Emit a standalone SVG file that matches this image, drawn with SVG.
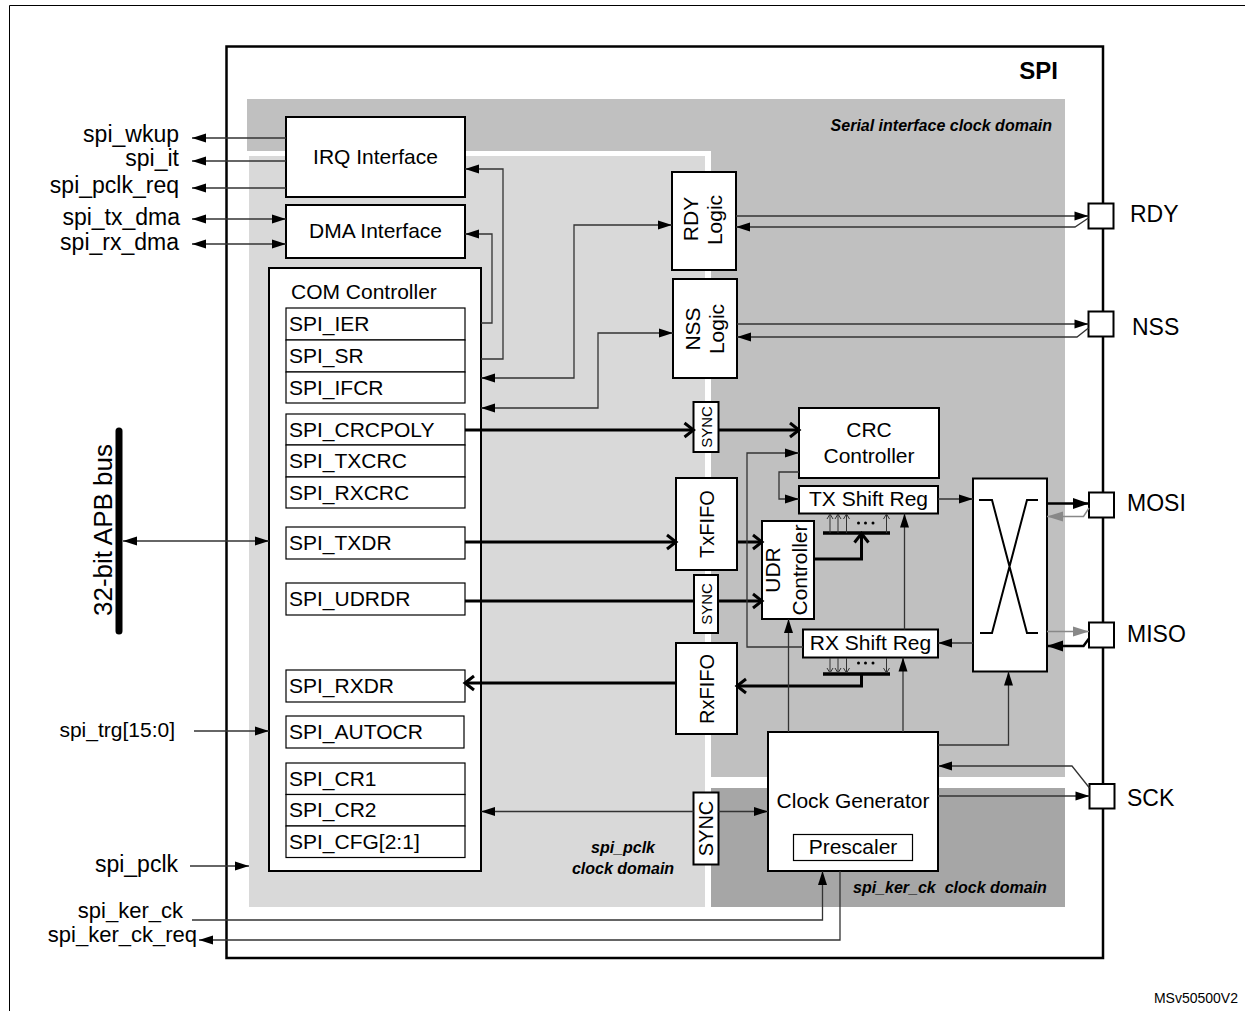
<svg xmlns="http://www.w3.org/2000/svg" width="1245" height="1011" viewBox="0 0 1245 1011">
<defs>
<style>
text{font-family:"Liberation Sans",Arial,Helvetica,sans-serif;fill:#000}
.f21{font-size:21px}
.lb{font-size:23px}
.pin{font-size:23px}
.dom{font-size:16px;font-weight:bold;font-style:italic}
.blk{fill:#fff;stroke:#000;stroke-width:2}
.reg{fill:#fff;stroke:#000;stroke-width:1.2}
.ln{fill:none;stroke:#333;stroke-width:1.3}
.th{fill:none;stroke:#000;stroke-width:3}
.tk{fill:none;stroke:#000;stroke-width:2.5}
.gr{fill:none;stroke:#888;stroke-width:1.5}
.sm{fill:none;stroke:#333;stroke-width:1}
</style>
<marker id="a" markerUnits="userSpaceOnUse" markerWidth="14" markerHeight="9" refX="14" refY="4.5" orient="auto-start-reverse" overflow="visible"><path d="M0,0 L14,4.5 L0,9 z" fill="#000"/></marker>
<marker id="ab" markerUnits="userSpaceOnUse" markerWidth="16" markerHeight="11" refX="16" refY="5.5" orient="auto-start-reverse" overflow="visible"><path d="M0,0 L16,5.5 L0,11 z" fill="#000"/></marker>
<marker id="ag" markerUnits="userSpaceOnUse" markerWidth="16" markerHeight="10" refX="16" refY="5" orient="auto-start-reverse" overflow="visible"><path d="M0,0 L16,5 L0,10 z" fill="#888"/></marker>
<marker id="c" markerUnits="userSpaceOnUse" markerWidth="10" markerHeight="14" refX="9" refY="7" orient="auto" overflow="visible"><path d="M0,0 L9,7 L0,14" fill="none" stroke="#000" stroke-width="3"/></marker>
<marker id="s" markerUnits="userSpaceOnUse" markerWidth="6" markerHeight="6" refX="5" refY="3" orient="auto" overflow="visible"><path d="M0,0 L5,3 L0,6" fill="none" stroke="#333" stroke-width="1"/></marker>
</defs>

<rect x="0" y="0" width="1245" height="1011" fill="#fff"/>
<path d="M9.5,1011 V5.5 H1245" fill="none" stroke="#000" stroke-width="1"/>

<g id="spi">
<rect x="226.5" y="46.5" width="876.5" height="911.5" fill="#fff" stroke="#000" stroke-width="2.5"/>
<text x="1058" y="79" text-anchor="end" font-size="24" font-weight="bold">SPI</text>
</g>

<g id="domains">
<rect x="247" y="99" width="818" height="678" fill="#c0c0c0"/>
<rect x="244" y="151" width="467" height="759" fill="#fff"/>
<rect x="249" y="156" width="456" height="751" fill="#d9d9d9"/>
<rect x="711" y="788" width="354" height="119" fill="#a6a6a6"/>
<text class="dom" x="1052" y="131" text-anchor="end">Serial interface clock domain</text>
<text class="dom" x="623" y="853" text-anchor="middle">spi_pclk</text>
<text class="dom" x="623" y="874" text-anchor="middle">clock domain</text>
<text class="dom" x="853" y="893" xml:space="preserve">spi_ker_ck  clock domain</text>
</g>

<g id="signals">
<text class="lb" x="179" y="142" text-anchor="end">spi_wkup</text>
<text class="lb" x="179" y="166" text-anchor="end">spi_it</text>
<text class="lb" x="179" y="193" text-anchor="end">spi_pclk_req</text>
<text class="lb" x="180" y="225" text-anchor="end">spi_tx_dma</text>
<text class="lb" x="179" y="250" text-anchor="end">spi_rx_dma</text>
<text x="175" y="737" text-anchor="end" font-size="21">spi_trg[15:0]</text>
<text class="lb" x="178" y="872" text-anchor="end">spi_pclk</text>
<text x="183" y="918" text-anchor="end" font-size="22">spi_ker_ck</text>
<text x="197" y="942" text-anchor="end" font-size="22">spi_ker_ck_req</text>
</g>

<g id="apb">
<line x1="119" y1="431" x2="119" y2="631" stroke="#000" stroke-width="7" stroke-linecap="round"/>
<text transform="translate(112,530) rotate(-90)" text-anchor="middle" font-size="26">32-bit APB bus</text>
</g>

<g id="irq"><rect class="blk" x="286" y="117" width="179" height="80"/><text class="f21" x="375.5" y="164" text-anchor="middle">IRQ Interface</text></g>
<g id="dma"><rect class="blk" x="286" y="205" width="179" height="53"/><text class="f21" x="375.5" y="238" text-anchor="middle">DMA Interface</text></g>

<g id="com">
<rect class="blk" x="269" y="268" width="212" height="603"/>
<text class="f21" x="291" y="299">COM Controller</text>
<rect class="reg" x="286" y="308" width="179" height="32"/><text class="f21" x="289" y="331">SPI_IER</text>
<rect class="reg" x="286" y="340" width="179" height="32"/><text class="f21" x="289" y="363">SPI_SR</text>
<rect class="reg" x="286" y="372" width="179" height="31"/><text class="f21" x="289" y="394.5">SPI_IFCR</text>
<rect class="reg" x="286" y="414" width="179" height="31"/><text class="f21" x="289" y="437">SPI_CRCPOLY</text>
<rect class="reg" x="286" y="445" width="179" height="32"/><text class="f21" x="289" y="468">SPI_TXCRC</text>
<rect class="reg" x="286" y="477" width="179" height="31"/><text class="f21" x="289" y="500">SPI_RXCRC</text>
<rect class="reg" x="286" y="527" width="179" height="32"/><text class="f21" x="289" y="550">SPI_TXDR</text>
<rect class="reg" x="286" y="583" width="179" height="32"/><text class="f21" x="289" y="606">SPI_UDRDR</text>
<rect class="reg" x="286" y="670" width="179" height="32"/><text class="f21" x="289" y="693">SPI_RXDR</text>
<rect class="reg" x="286" y="716" width="178" height="32"/><text class="f21" x="289" y="739">SPI_AUTOCR</text>
<rect class="reg" x="286" y="763" width="179" height="31.5"/><text class="f21" x="289" y="786">SPI_CR1</text>
<rect class="reg" x="286" y="794.5" width="179" height="31.5"/><text class="f21" x="289" y="817">SPI_CR2</text>
<rect class="reg" x="286" y="826" width="179" height="31.5"/><text class="f21" x="289" y="849">SPI_CFG[2:1]</text>
</g>

<g id="rdy-logic"><rect class="blk" x="672" y="172" width="64" height="98"/>
<text class="f21" transform="translate(698,219) rotate(-90)" text-anchor="middle">RDY</text>
<text class="f21" transform="translate(722,220) rotate(-90)" text-anchor="middle">Logic</text></g>
<g id="nss-logic"><rect class="blk" x="673" y="279" width="64" height="99"/>
<text class="f21" transform="translate(699.5,329) rotate(-90)" text-anchor="middle">NSS</text>
<text class="f21" transform="translate(724,329) rotate(-90)" text-anchor="middle">Logic</text></g>

<g id="sync1"><rect class="blk" x="693.5" y="402" width="25" height="50"/><text transform="translate(712,427) rotate(-90)" text-anchor="middle" font-size="15">SYNC</text></g>
<g id="sync2"><rect class="blk" x="694" y="575" width="24" height="58"/><text transform="translate(711.5,604) rotate(-90)" text-anchor="middle" font-size="15">SYNC</text></g>
<g id="sync3"><rect class="blk" x="693.5" y="792.5" width="25" height="72"/><text transform="translate(713,828.5) rotate(-90)" text-anchor="middle" font-size="20">SYNC</text></g>

<g id="crc"><rect class="blk" x="799" y="408" width="140" height="70"/>
<text class="f21" x="869" y="437" text-anchor="middle">CRC</text>
<text class="f21" x="869" y="462.5" text-anchor="middle">Controller</text></g>
<g id="tx-shift"><rect class="blk" x="799" y="486" width="139" height="27.5"/><text class="f21" x="868.5" y="506" text-anchor="middle">TX Shift Reg</text></g>
<g id="txfifo"><rect class="blk" x="676" y="478" width="61" height="92"/><text transform="translate(713.5,524) rotate(-90)" text-anchor="middle" font-size="20">TxFIFO</text></g>
<g id="udr"><rect class="blk" x="762" y="521" width="52" height="98"/>
<text class="f21" transform="translate(780,570) rotate(-90)" text-anchor="middle">UDR</text>
<text class="f21" transform="translate(807,570) rotate(-90)" text-anchor="middle">Controller</text></g>
<g id="rx-shift"><rect class="blk" x="803" y="629.5" width="135" height="28"/><text class="f21" x="870.5" y="650" text-anchor="middle">RX Shift Reg</text></g>
<g id="rxfifo"><rect class="blk" x="676" y="643" width="61" height="91"/><text transform="translate(713.5,689) rotate(-90)" text-anchor="middle" font-size="20">RxFIFO</text></g>
<g id="clockgen"><rect class="blk" x="768" y="732" width="170" height="139"/>
<text class="f21" x="853" y="808" text-anchor="middle">Clock Generator</text>
<rect class="reg" x="793.5" y="834.5" width="119" height="26"/>
<text class="f21" x="853" y="854" text-anchor="middle">Prescaler</text></g>
<g id="crossbar"><rect class="blk" x="973" y="478.5" width="74" height="193"/>
<path d="M979,500 H992 L1027,633 H1038 M1038,500 H1027 L992,633 H980" fill="none" stroke="#000" stroke-width="2"/></g>

<g id="pins">
<rect class="blk" x="1088.5" y="203.5" width="25" height="25"/><text class="pin" x="1130" y="222">RDY</text>
<rect class="blk" x="1088.5" y="311.5" width="25" height="25"/><text class="pin" x="1132" y="335">NSS</text>
<rect class="blk" x="1089" y="492.5" width="25" height="25"/><text class="pin" x="1127" y="511">MOSI</text>
<rect class="blk" x="1089" y="622.5" width="25" height="25"/><text class="pin" x="1127" y="642">MISO</text>
<rect class="blk" x="1089.5" y="784" width="25" height="24.5"/><text class="pin" x="1127" y="806">SCK</text>
</g>

<g id="connectors">
<path class="ln" d="M286,138 H192" marker-end="url(#a)"/>
<path class="ln" d="M286,161 H192" marker-end="url(#a)"/>
<path class="ln" d="M286,188 H192" marker-end="url(#a)"/>
<path class="ln" d="M192,219 H286" marker-start="url(#a)" marker-end="url(#a)"/>
<path class="ln" d="M192,244 H286" marker-start="url(#a)" marker-end="url(#a)"/>
<path class="ln" d="M481,323 H492 V234 H465" marker-end="url(#a)"/>
<path class="ln" d="M481,359 H503 V169 H465" marker-end="url(#a)"/>
<path class="ln" d="M481,378 H574 V225 H672" marker-start="url(#a)" marker-end="url(#a)"/>
<path class="ln" d="M481,408 H598 V333 H673" marker-start="url(#a)" marker-end="url(#a)"/>
<path class="ln" d="M736,216 H1088.5" marker-end="url(#a)"/>
<path class="ln" d="M1088.5,218 L1075,227 H736" marker-end="url(#a)"/>
<path class="ln" d="M737,324 H1088.5" marker-end="url(#a)"/>
<path class="ln" d="M1088.5,328 L1077,337 H737" marker-end="url(#a)"/>

<path class="th" d="M465,430 H693.5" marker-end="url(#c)"/>
<path class="th" d="M718.5,430 H799" marker-end="url(#c)"/>
<path class="th" d="M465,542 H676" marker-end="url(#c)"/>
<path class="th" d="M737,542 H762" marker-end="url(#c)"/>
<path class="th" d="M465,601 H694"/>
<path class="th" d="M718,601 H762" marker-end="url(#c)"/>
<path class="th" d="M676,683 H465" marker-end="url(#c)"/>
<path class="th" d="M861.5,674 V686 H737" marker-end="url(#c)"/>
<path class="th" d="M814,559 H861.5 V533.5" marker-end="url(#c)"/>
<path d="M823,533 H890 M823,674 H890" fill="none" stroke="#000" stroke-width="3.5"/>
<path class="sm" d="M830,533 V514" marker-end="url(#s)"/>
<path class="sm" d="M838,533 V514" marker-end="url(#s)"/>
<path class="sm" d="M846.5,533 V514" marker-end="url(#s)"/>
<path class="sm" d="M886.5,533 V514" marker-end="url(#s)"/>
<path class="sm" d="M830,658 V673" marker-end="url(#s)"/>
<path class="sm" d="M838,658 V673" marker-end="url(#s)"/>
<path class="sm" d="M846.5,658 V673" marker-end="url(#s)"/>
<path class="sm" d="M886.5,658 V673" marker-end="url(#s)"/>
<g fill="#000"><circle cx="858.5" cy="523" r="1.5"/><circle cx="865.5" cy="523" r="1.5"/><circle cx="873" cy="523" r="1.5"/><circle cx="858.5" cy="663" r="1.5"/><circle cx="865.5" cy="663" r="1.5"/><circle cx="873" cy="663" r="1.5"/></g>

<path class="ln" d="M803,647 H747 V453 H799" marker-end="url(#a)"/>
<path class="ln" d="M799,472 H779 V499 H799" marker-end="url(#a)"/>
<path class="ln" d="M938,499 H973" marker-end="url(#a)"/>
<path class="ln" d="M973,643 H938" marker-end="url(#a)"/>
<path class="tk" d="M1047,503.5 H1089" marker-end="url(#ab)"/>
<path class="gr" d="M1089,508 L1083.5,516.5 H1047" marker-end="url(#ag)"/>
<path class="gr" d="M1047,631.5 H1089" marker-end="url(#ag)"/>
<path class="tk" d="M1089,638.5 L1083.5,646 H1047" marker-end="url(#ab)"/>
<path class="ln" d="M788.5,732 V619" marker-end="url(#a)"/>
<path class="ln" d="M903,732 V657.5" marker-end="url(#a)"/>
<path class="ln" d="M904.5,629.5 V513.5" marker-end="url(#a)"/>
<path class="ln" d="M938,745 H1008.5 V671.5" marker-end="url(#a)"/>
<path class="ln" d="M938,796 H1089.5" marker-end="url(#a)"/>
<path class="ln" d="M1089.5,788 L1072,766 H938" marker-end="url(#a)"/>
<path class="ln" d="M693.5,811.5 H481" marker-end="url(#a)"/>
<path class="ln" d="M718.5,811.5 H768" marker-end="url(#a)"/>
<path class="ln" d="M192,920 H822.5 V871" marker-end="url(#a)"/>
<path class="ln" d="M840,871 V940 H199" marker-end="url(#a)"/>
<path class="ln" d="M194,731 H269" marker-end="url(#a)"/>
<path class="ln" d="M190,866 H249" marker-end="url(#a)"/>
<path class="ln" d="M123,541 H269" marker-start="url(#a)" marker-end="url(#a)"/>
</g>

<text x="1238" y="1003" text-anchor="end" font-size="14">MSv50500V2</text>
</svg>
